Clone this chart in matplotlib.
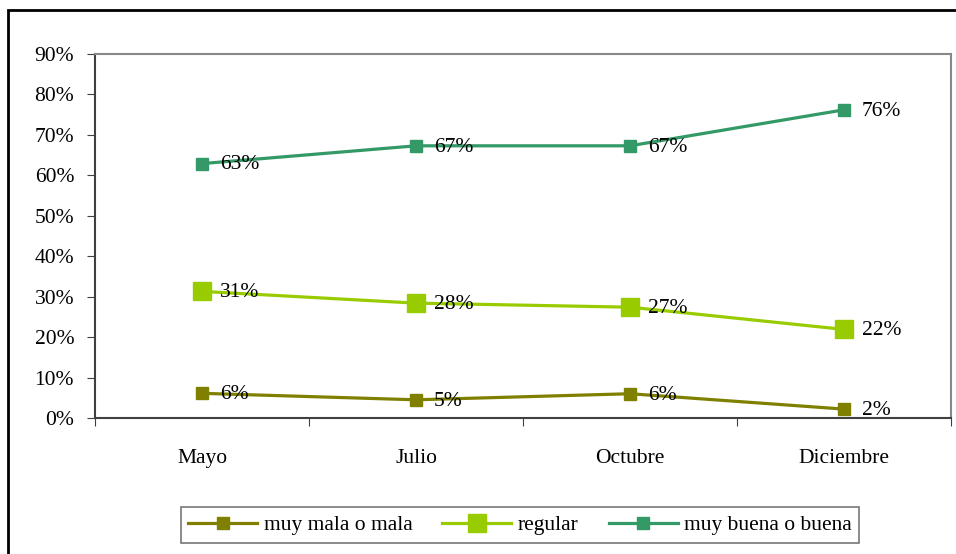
import matplotlib.pyplot as plt
from matplotlib.patches import Rectangle

plt.rcParams['font.family'] = ['Liberation Serif', 'DejaVu Serif']

meses = ['Mayo', 'Julio', 'Octubre', 'Diciembre']
mala = [6.1, 4.5, 6.0, 2.2]
regular = [31.3, 28.4, 27.4, 21.9]
buena = [62.9, 67.3, 67.3, 76.2]
etiq_mala = ['6%', '5%', '6%', '2%']
etiq_regular = ['31%', '28%', '27%', '22%']
etiq_buena = ['63%', '67%', '67%', '76%']

fs = 15.5

fig = plt.figure(figsize=(9.56, 5.54), dpi=100)
ax = fig.add_axes([95/956, 136/554, 856/956, 364/554])

# outer frame of the chart
fig.patches.append(Rectangle((8/956, -0.05), 1.1, (554-10)/554 + 0.05, transform=fig.transFigure,
                             fill=False, edgecolor='black', linewidth=2))

x = list(range(len(meses)))
series = [
    (mala, etiq_mala, '#808000', 8.5, 'muy mala o mala'),
    (regular, etiq_regular, '#99CC00', 13.5, 'regular'),
    (buena, etiq_buena, '#339966', 8, 'muy buena o buena'),
]
for vals, etiq, col, ms, nombre in series:
    ax.plot(x, vals, color=col, linewidth=2.3, marker='s', markersize=ms, label=nombre)
    for xi, v, t in zip(x, vals, etiq):
        ax.annotate(t, (xi, v), xytext=(13, -1), textcoords='offset points',
                    ha='left', va='center', fontsize=fs)

ax.set_xlim(-0.5, 3.5)
ax.set_ylim(0, 90)
ax.set_yticks(range(0, 91, 10))
ax.set_yticklabels([f'{v}%' for v in range(0, 91, 10)], fontsize=fs)
ax.set_xticks([-0.5, 0.5, 1.5, 2.5, 3.5])
ax.set_xticklabels([])
ax.set_xticks(x, minor=True)
ax.set_xticklabels(meses, minor=True, fontsize=fs)
ax.tick_params(axis='x', which='minor', length=0, pad=22)
ax.tick_params(axis='x', which='major', length=6, direction='out', color='#404040')
ax.tick_params(axis='y', length=6, direction='out', color='#404040', pad=9)

ax.spines['left'].set_color('#404040')
ax.spines['bottom'].set_color('#404040')
ax.spines['top'].set_color('#888888')
ax.spines['right'].set_color('#888888')
for s in ax.spines.values():
    s.set_linewidth(1.5)

leg = fig.legend(loc='center', bbox_to_anchor=(520/956, 29/554), ncol=3, fontsize=fs,
                 frameon=True, fancybox=False, edgecolor='#555555', handlelength=3.2,
                 handletextpad=0.3, columnspacing=1.4, borderpad=0.35)
leg.get_frame().set_linewidth(1.2)

fig.savefig('out.png', dpi=100)
